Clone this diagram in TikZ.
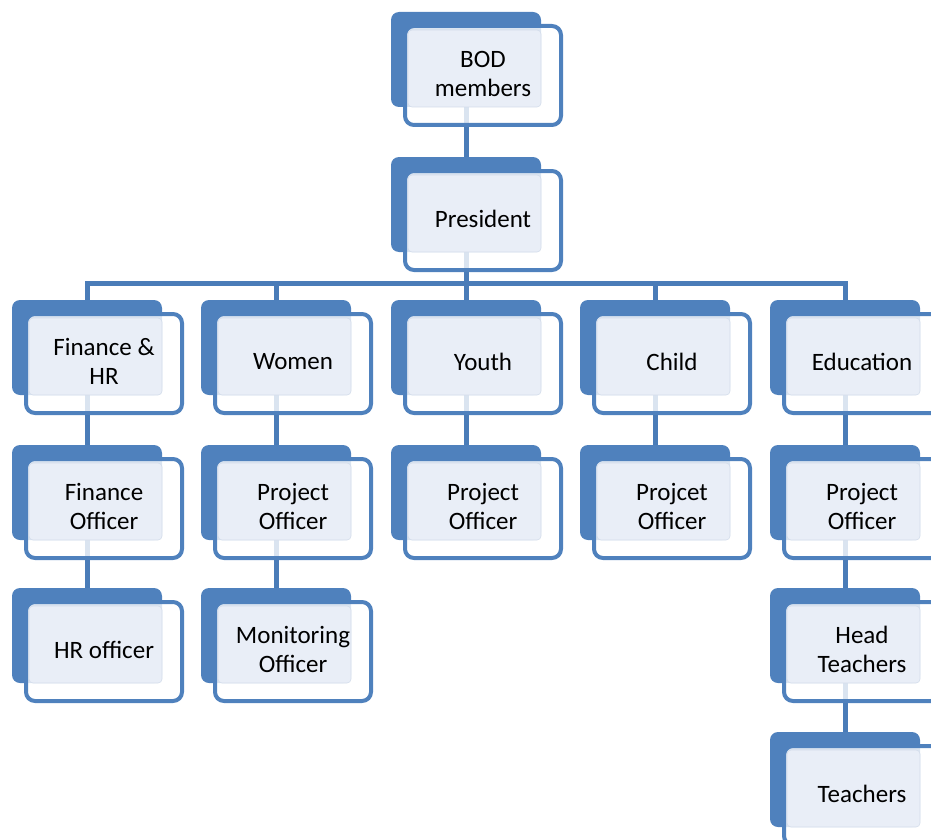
\documentclass[tikz,border=0pt]{standalone}
\usepackage{fontspec}
\setmainfont{Carlito}
\usetikzlibrary{backgrounds}
\definecolor{obBlue}{HTML}{4F81BD}
\definecolor{obPanel}{HTML}{E9EEF7}
\definecolor{obEdge}{HTML}{D3DCEB}
\definecolor{obLine}{HTML}{4A7CB8}
\tikzset{
  backbox/.style={fill=obBlue, draw=none, rounded corners=8pt, minimum width=150pt, minimum height=95pt, inner sep=0pt},
  frontbox/.style={draw=obBlue, line width=4pt, fill=white, fill opacity=0.8, rounded corners=9pt, minimum width=156pt, minimum height=99pt, inner sep=0pt},
  panelbox/.style={fill=obPanel, draw=obEdge, line width=0.6pt, rounded corners=4pt, minimum width=133pt, minimum height=77pt, inner sep=0pt},
  txt/.style={font=\fontsize{25}{29}\selectfont, align=center, text=black, inner sep=0pt},
  conn/.style={draw=obLine, line width=5pt}
}
\newcommand\orgbox[4]{%
  \node[backbox] (#1-b) at ({#2+75},{#3+47.5}) {};
  \node[frontbox] (#1-f) at ({#2+92},{#3+63.5}) {};
  \node[panelbox] (#1-p) at ({#2+83.5},{#3+56.5}) {};
  \node[txt] (#1) at ({#2+92},{#3+61.5}) {#4};
}
\begin{document}
\begin{tikzpicture}[x=1pt,y=-1pt]
\useasboundingbox (0,0) rectangle (931,840);
\clip (0,0) rectangle (931,840);
\orgbox{bod}{391}{12}{BOD\\members}
\orgbox{pres}{391}{157}{President}
\orgbox{fin}{12}{300}{Finance \&\\HR}
\orgbox{wom}{201}{300}{Women}
\orgbox{you}{391}{300}{Youth}
\orgbox{chi}{580}{300}{Child}
\orgbox{edu}{770}{300}{Education}
\orgbox{fo}{12}{445}{Finance\\Officer}
\orgbox{wpo}{201}{445}{Project\\Officer}
\orgbox{ypo}{391}{445}{Project\\Officer}
\orgbox{cpo}{580}{445}{Projcet\\Officer}
\orgbox{epo}{770}{445}{Project\\Officer}
\orgbox{hr}{12}{588}{HR officer}
\orgbox{mo}{201}{588}{Monitoring\\Officer}
\orgbox{ht}{770}{588}{Head\\Teachers}
\orgbox{tea}{770}{732}{Teachers}
\coordinate (bus) at (0,283);
\begin{pgfonlayer}{background}
  \draw[conn] (bod-b.center |- bod-p.south) -- (pres-b.north);
  \draw[conn] (pres-b.center |- pres-p.south) -- (pres-b.center |- bus);
  \draw[conn] (fin-b.north) -- (fin-b.center |- bus) -- (edu-b.center |- bus) -- (edu-b.north);
  \draw[conn] (wom-b.center |- bus) -- (wom-b.north);
  \draw[conn] (you-b.center |- bus) -- (you-b.north);
  \draw[conn] (chi-b.center |- bus) -- (chi-b.north);
  \draw[conn] (fin-b.center |- fin-p.south) -- (fo-b.north);
  \draw[conn] (fo-b.center |- fo-p.south) -- (hr-b.north);
  \draw[conn] (wom-b.center |- wom-p.south) -- (wpo-b.north);
  \draw[conn] (wpo-b.center |- wpo-p.south) -- (mo-b.north);
  \draw[conn] (you-b.center |- you-p.south) -- (ypo-b.north);
  \draw[conn] (chi-b.center |- chi-p.south) -- (cpo-b.north);
  \draw[conn] (edu-b.center |- edu-p.south) -- (epo-b.north);
  \draw[conn] (epo-b.center |- epo-p.south) -- (ht-b.north);
  \draw[conn] (ht-b.center |- ht-p.south) -- (tea-b.north);
\end{pgfonlayer}
\end{tikzpicture}
\end{document}
